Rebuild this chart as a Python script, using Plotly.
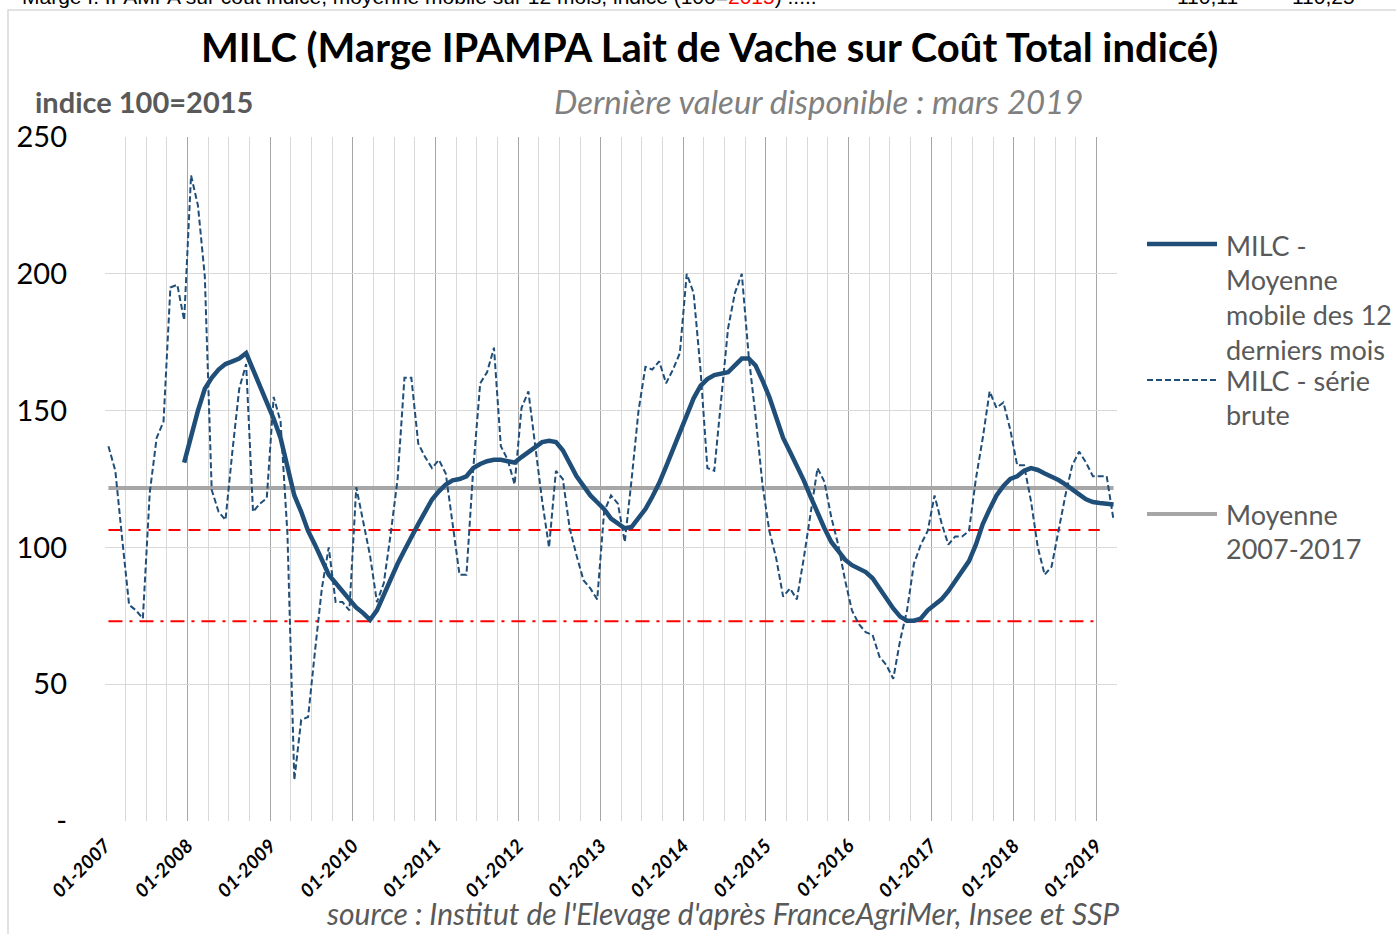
import plotly.graph_objects as go

# ---------------- data ----------------
TITLE = "MILC (Marge IPAMPA Lait de Vache sur Coût Total indicé)"
YEARS = list(range(2007, 2020))
MONTHS = [f"{m:02d}-{y}" for y in YEARS for m in range(1, 13)][:147]   # 01-2007 .. 03-2019

# MILC - série brute (monthly, 01-2007 .. 03-2019)
BRUTE = [
    137, 128, 103, 79, 77, 74, 120, 140, 146, 195, 196, 183,     # 2007
    236, 225, 199, 121, 113, 110, 135, 158, 167, 113, 116, 118,  # 2008
    155, 146, 105, 15, 37, 38, 62, 85, 100, 80, 80, 77,          # 2009
    122, 110, 97, 80, 87, 105, 125, 162, 162, 138, 133, 129,     # 2010
    132, 127, 108, 90, 90, 129, 160, 164, 173, 137, 132, 123,    # 2011
    151, 157, 137, 117, 100, 128, 125, 107, 97, 88, 85, 81,      # 2012
    113, 119, 116, 102, 125, 150, 166, 165, 168, 160, 165, 171,  # 2013
    200, 193, 165, 129, 128, 155, 180, 193, 200, 170, 148, 123,  # 2014
    106, 96, 82, 85, 81, 96, 113, 129, 124, 111, 101, 88,        # 2015
    77, 72, 69, 68, 60, 57, 52, 66, 77, 94, 101, 106,            # 2016
    119, 109, 101, 104, 104, 106, 125, 140, 157, 151, 153, 143,  # 2017
    130, 130, 117, 100, 90, 93, 106, 119, 130, 135, 131, 126,    # 2018
    126, 126, 110,                                               # 2019
]

# MILC - moyenne mobile des 12 derniers mois (from 12-2007)
MA_START = 11
MOY_MOBILE = [
    131,                                                                   # 2007-12
    141, 150, 158, 162, 165, 167, 168, 169, 171, 165, 160, 154,            # 2008
    147, 140, 130, 119, 113, 106, 101, 95, 90, 87, 84, 81,                 # 2009
    78, 76, 73.5, 77, 83, 88, 94, 99, 104, 108.5, 113, 117.5,              # 2010
    120.5, 123, 124.5, 125, 126, 129, 130.5, 131.5, 132, 132, 131.5, 131,  # 2011
    133, 135, 137, 138.5, 139, 138.5, 135.5, 130.5, 126, 122.5, 119, 116.5,# 2012
    114, 110.5, 108.5, 107, 107.5, 110.5, 114, 118.5, 123.5, 129.5, 135.5, 141.5,  # 2013
    148, 154.5, 159, 161.5, 163, 163.5, 164, 166.5, 169, 169, 166.5, 161,  # 2014
    155, 147.5, 140, 135, 130, 124.5, 118.5, 112.5, 107, 102, 98.5, 95.5,  # 2015
    93.5, 92.3, 91, 88.7, 85, 81.4, 77.7, 74.7, 73.2, 73.2, 74, 77,        # 2016
    79, 81, 84, 87.5, 91.5, 95, 101, 108.5, 114, 119, 122.5, 125,          # 2017
    126, 128, 129, 128.3, 127, 126, 124.6, 123, 121, 119.4, 117.6, 116.6,  # 2018
    116.2, 116, 115.7,                                                     # 2019
]

MOYENNE_2007_2017 = 121.7
SEUIL_1 = 106.4      # red dashed reference
SEUIL_2 = 73.0       # red dash-dot reference
SEUIL_LEN = 145

Y_TICKS = [0, 50, 100, 150, 200, 250]
Y_TICKTEXT = ["-", "50", "100", "150", "200", "250"]

LEGEND_MA = ["MILC -", "Moyenne", "mobile des 12", "derniers mois"]
LEGEND_BRUTE = ["MILC - série", "brute"]
LEGEND_MEAN = ["Moyenne", "2007-2017"]

# ---------------- layout helpers ----------------
W, H = 1396, 934
PL, PR, PT, PB = 105, 1117, 137, 821


def px2x(px):
    return (px - PL) / (PR - PL)


def py2y(py):
    return (PB - py) / (PB - PT)


NAVY = "#1F4E79"
GREY = "#A6A6A6"
TXT = "#595959"
FONT = "Lato"

XPOS = [i + 0.5 for i in range(len(MONTHS))]

fig = go.Figure()

fig.add_trace(go.Scatter(x=XPOS, y=[MOYENNE_2007_2017] * len(MONTHS), mode="lines",
                         line=dict(color=GREY, width=4), hoverinfo="skip"))
fig.add_trace(go.Scatter(x=XPOS[:SEUIL_LEN], y=[SEUIL_1] * SEUIL_LEN, mode="lines",
                         line=dict(color="#FF0000", width=2, dash="12px,8px"), hoverinfo="skip"))
fig.add_trace(go.Scatter(x=XPOS[:SEUIL_LEN], y=[SEUIL_2] * SEUIL_LEN, mode="lines",
                         line=dict(color="#FF0000", width=2, dash="14px,7px,3px,7px"), hoverinfo="skip"))
fig.add_trace(go.Scatter(x=XPOS, y=BRUTE, mode="lines", name="MILC - série brute",
                         line=dict(color=NAVY, width=2, dash="6px,3px")))
fig.add_trace(go.Scatter(x=XPOS[MA_START:], y=MOY_MOBILE, mode="lines",
                         name="MILC - Moyenne mobile des 12 derniers mois",
                         line=dict(color=NAVY, width=4.5)))

fig.update_layout(
    width=W, height=H,
    margin=dict(l=PL, r=W - PR, t=PT, b=H - PB, autoexpand=False),
    paper_bgcolor="white", plot_bgcolor="white",
    showlegend=False,
    font=dict(family=FONT, color="black"),
)

fig.update_xaxes(
    range=[0, 147], automargin=False,
    tickmode="array",
    tickvals=[12 * k for k in range(13)],
    ticktext=[MONTHS[12 * k] for k in range(13)],
    tickangle=-45,
    tickfont=dict(family=FONT, size=19, color="black", weight="bold", style="italic"),
    showgrid=True, gridcolor="#A6A6A6", gridwidth=1,
    minor=dict(tickmode="linear", tick0=0, dtick=3, showgrid=True, gridcolor="#D9D9D9", gridwidth=1),
    zeroline=False, showline=False, ticks="",
    ticklabelstandoff=9,
)
fig.update_yaxes(
    range=[0, 250], automargin=False,
    tickmode="array", tickvals=Y_TICKS, ticktext=Y_TICKTEXT,
    tickfont=dict(family=FONT, size=29, color="black"),
    showgrid=True, gridcolor="#D9D9D9", gridwidth=1,
    zeroline=False, showline=False, ticks="",
    ticklabelstandoff=37,
)

P = dict(xref="paper", yref="paper", showarrow=False)
ann = []
ann.append(dict(text="Marge I. IPAMPA sur coût indicé, moyenne mobile sur 12 mois, indice (100=<span style='color:#FF0000'>2015</span>) .....",
                x=px2x(20), y=py2y(-3), xanchor="left", yanchor="middle",
                font=dict(family="Liberation Sans", size=21, color="black"), **P))
ann.append(dict(text="110,11", x=px2x(1240), y=py2y(-3), xanchor="right", yanchor="middle",
                font=dict(family="Liberation Sans", size=21, color="black"), **P))
ann.append(dict(text="110,25", x=px2x(1290), y=py2y(-3), xanchor="left", yanchor="middle",
                font=dict(family="Liberation Sans", size=21, color="black"), **P))
ann.append(dict(text=f"<b>{TITLE}</b>", x=px2x(709), y=py2y(47), xanchor="center", yanchor="middle",
                font=dict(family=FONT, size=40, color="black"), **P))
ann.append(dict(text="<b>indice 100=2015</b>", x=px2x(33), y=py2y(101), xanchor="left", yanchor="middle",
                font=dict(family=FONT, size=29, color=TXT), **P))
ann.append(dict(text="<i>Dernière valeur disponible : mars 2019</i>", x=px2x(1085), y=py2y(101),
                xanchor="right", yanchor="middle",
                font=dict(family=FONT, size=33, color="#808080"), **P))
ann.append(dict(text="<i>source : Institut de l'Elevage d'après FranceAgriMer, Insee et SSP</i>",
                x=px2x(1121), y=py2y(913), xanchor="right", yanchor="middle",
                font=dict(family=FONT, size=30, color=TXT), **P))


def legend_block(lines, y0, step=34.8):
    for i, t in enumerate(lines):
        ann.append(dict(text=t, x=px2x(1224), y=py2y(y0 + i * step), xanchor="left", yanchor="middle",
                        font=dict(family=FONT, size=27, color=TXT), **P))


legend_block(LEGEND_MA, 245)
legend_block(LEGEND_BRUTE, 380)
legend_block(LEGEND_MEAN, 514)

shapes = [
    dict(type="rect", xref="paper", yref="paper", x0=px2x(8), x1=px2x(1402), y0=py2y(10), y1=py2y(945),
         line=dict(color="#D9D9D9", width=1.5), fillcolor="rgba(0,0,0,0)", layer="below"),
    dict(type="line", xref="paper", yref="paper", x0=px2x(1147), x1=px2x(1217), y0=py2y(244), y1=py2y(244),
         line=dict(color=NAVY, width=4.5)),
    dict(type="line", xref="paper", yref="paper", x0=px2x(1147), x1=px2x(1217), y0=py2y(380), y1=py2y(380),
         line=dict(color=NAVY, width=2, dash="6px,3px")),
    dict(type="line", xref="paper", yref="paper", x0=px2x(1147), x1=px2x(1217), y0=py2y(514), y1=py2y(514),
         line=dict(color=GREY, width=4)),
]

fig.update_layout(annotations=ann, shapes=shapes)
fig.write_html("out.html", config={"displayModeBar": False},
               post_script="document.body.style.margin='0';document.body.style.overflow='hidden';")
